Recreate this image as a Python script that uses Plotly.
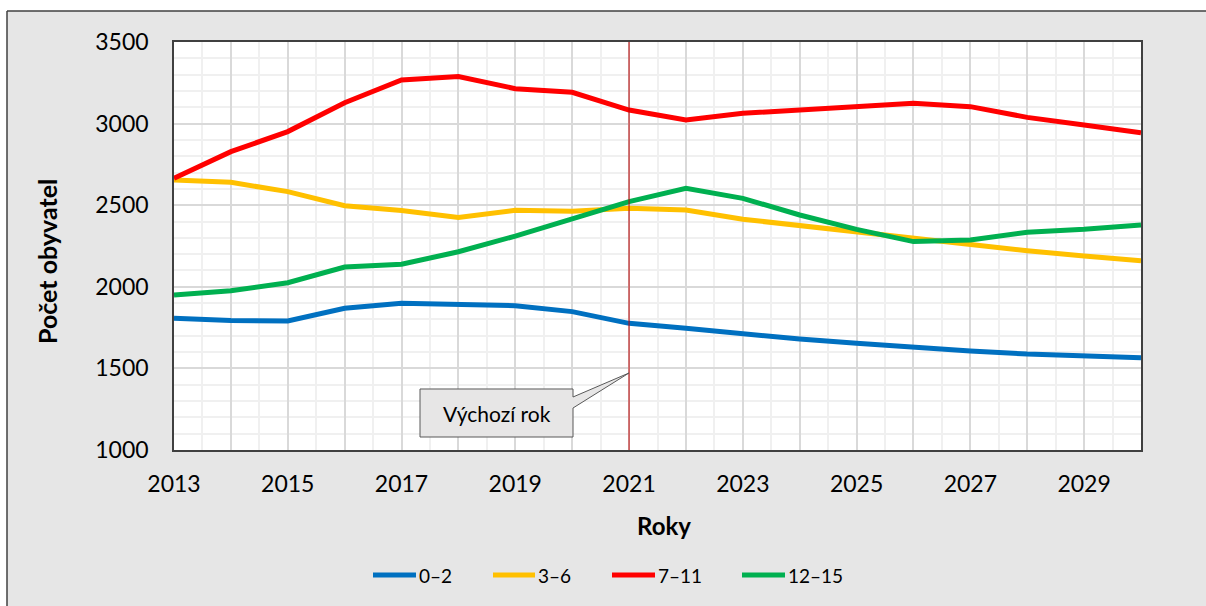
import plotly.graph_objects as go

years = list(range(2013, 2031))
series_names = ["0–2", "3–6", "7–11", "12–15"]
v_0_2 = [1807, 1793, 1791, 1868, 1899, 1893, 1884, 1848, 1776, 1746, 1711, 1680, 1654, 1627, 1607, 1588, 1574, 1566]
v_3_6 = [2654, 2640, 2583, 2497, 2467, 2424, 2469, 2463, 2481, 2471, 2414, 2375, 2335, 2295, 2256, 2221, 2189, 2160]
v_7_11 = [2665, 2828, 2951, 3128, 3267, 3288, 3214, 3192, 3083, 3022, 3063, 3083, 3100, 3124, 3104, 3038, 2991, 2944]
v_12_15 = [1950, 1976, 2025, 2121, 2138, 2215, 2311, 2420, 2522, 2604, 2542, 2440, 2352, 2277, 2287, 2334, 2352, 2379]
colors = ["#0070C0", "#FFC000", "#FF0000", "#00B050"]
x_tickvals = years[:-1]
x_ticktext = [str(y) if (y - 2013) % 2 == 0 else "" for y in x_tickvals]
base_year = 2021
base_label = "Výchozí rok"
y_title = "Počet obyvatel"
x_title = "Roky"

FONT = "Lato"
W, H = 1206, 606
L, R, T, B = 174, 1141, 42, 450

def px(x):
    return (x - L) / (R - L)

def py(y):
    return (B - y) / (B - T)

fig = go.Figure()
for name, vals, c in zip(series_names, [v_0_2, v_3_6, v_7_11, v_12_15], colors):
    fig.add_trace(go.Scatter(x=years, y=vals, name=name, mode="lines",
                             line=dict(color=c, width=5), showlegend=False))

shapes = [
    dict(type="rect", xref="paper", yref="paper", x0=px(0), x1=px(W), y0=py(11), y1=py(0),
         fillcolor="white", line_width=0, layer="below"),
    dict(type="rect", xref="paper", yref="paper", x0=px(0), x1=px(7), y0=py(H), y1=py(0),
         fillcolor="white", line_width=0, layer="below"),
    dict(type="line", xref="paper", yref="paper", x0=px(7), x1=px(W), y0=py(11), y1=py(11),
         line=dict(color="#404040", width=1.5)),
    dict(type="line", xref="paper", yref="paper", x0=px(7), x1=px(7), y0=py(11), y1=py(H),
         line=dict(color="#404040", width=1.5)),
    dict(type="line", xref="x", yref="paper", x0=base_year, x1=base_year, y0=0, y1=1,
         line=dict(color="#C00000", width=1)),
]
bx0, bx1, by0, by1 = 420, 573, 389, 437
wy0, wy1 = 397, 408
tipx, tipy = 629, 373
pts = [(bx0, by0), (bx1, by0), (bx1, wy0), (tipx, tipy), (bx1, wy1), (bx1, by1), (bx0, by1)]
path = "M " + " L ".join(f"{px(a):.5f},{py(b):.5f}" for a, b in pts) + " Z"
shapes.append(dict(type="path", xref="paper", yref="paper", path=path,
                   fillcolor="#E7E6E6", line=dict(color="#595959", width=1)))

annotations = [
    dict(text=base_label, xref="paper", yref="paper", x=px((bx0 + bx1) / 2), y=py((by0 + by1) / 2),
         showarrow=False, font=dict(family=FONT, size=21, color="black"),
         xanchor="center", yanchor="middle"),
    dict(text=f"<b>{y_title}</b>", xref="paper", yref="paper", x=px(47), y=py(261),
         showarrow=False, textangle=-90, font=dict(family=FONT, size=25, color="black"),
         xanchor="center", yanchor="middle"),
    dict(text=f"<b>{x_title}</b>", xref="paper", yref="paper", x=px(664), y=py(525),
         showarrow=False, font=dict(family=FONT, size=24, color="black"),
         xanchor="center", yanchor="middle"),
]

leg_y = 575
leg_line_x = [(373, 416), (493, 535), (612, 655), (742, 785)]
for (a, b), name, c in zip(leg_line_x, series_names, colors):
    shapes.append(dict(type="line", xref="paper", yref="paper", x0=px(a), x1=px(b),
                       y0=py(leg_y), y1=py(leg_y), line=dict(color=c, width=5)))
    annotations.append(dict(text=name, xref="paper", yref="paper", x=px(b + 1), y=py(leg_y),
                            showarrow=False, xanchor="left", yanchor="middle",
                            font=dict(family=FONT, size=19, color="black")))

fig.update_layout(
    width=W, height=H,
    margin=dict(l=L, r=W - R, t=T, b=H - B),
    paper_bgcolor="#E6E6E6", plot_bgcolor="white",
    font=dict(family=FONT, color="black"),
    shapes=shapes, annotations=annotations,
    showlegend=False,
)
fig.update_xaxes(range=[2013, 2030], tickvals=x_tickvals, ticktext=x_ticktext,
                 showgrid=True, gridcolor="#D9D9D9", gridwidth=1.5,
                 minor=dict(dtick=0.5, tick0=2013, showgrid=True, gridcolor="#F0F0F0", gridwidth=1.5),
                 showline=True, linecolor="#404040", linewidth=1.5, mirror=True,
                 ticks="", ticklabelstandoff=13, tickfont=dict(family=FONT, size=23, color="black"),
                 zeroline=False)
fig.update_yaxes(range=[1000, 3500], dtick=500, tick0=1000,
                 showgrid=True, gridcolor="#D9D9D9", gridwidth=1.5,
                 minor=dict(dtick=100, showgrid=True, gridcolor="#F0F0F0", gridwidth=1.5),
                 showline=True, linecolor="#404040", linewidth=1.5, mirror=True,
                 ticks="", ticklabelstandoff=19, tickfont=dict(family=FONT, size=23, color="black"),
                 zeroline=False)

fig.write_html("out.html", config={"displayModeBar": False},
               post_script="document.body.style.margin='0';document.body.style.overflow='hidden';")
